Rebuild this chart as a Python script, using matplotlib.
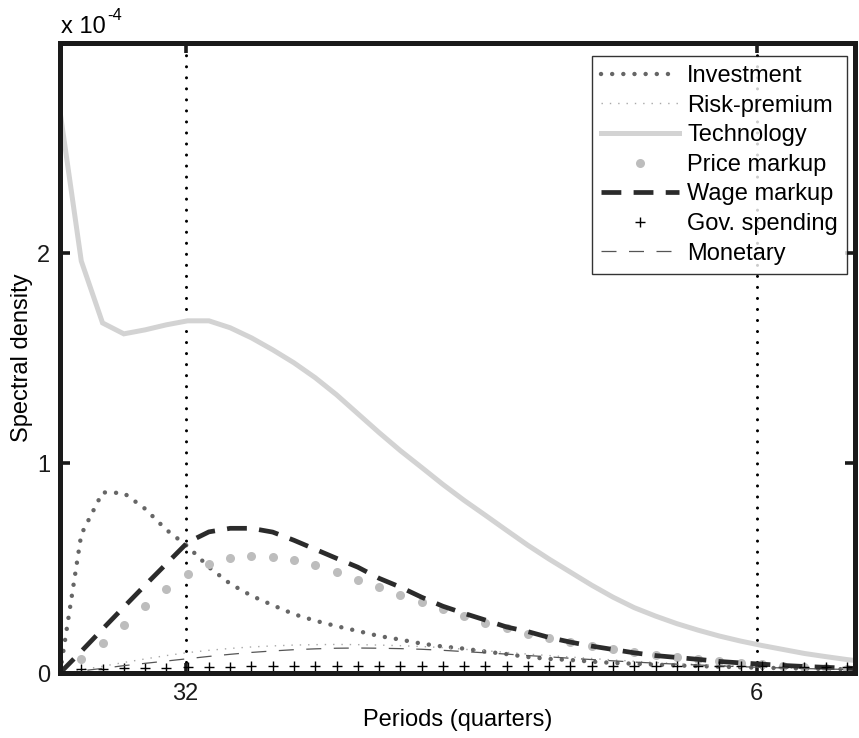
import numpy as np
import matplotlib
matplotlib.use('Agg')
import matplotlib.pyplot as plt

plt.rcParams['font.family'] = ['Liberation Sans', 'DejaVu Sans']

# frequency grid (radians per quarter)
w_start = 0.00909
w_step = 0.0317
n_points = 39
freq = w_start + w_step * np.arange(n_points)

x_limits = (0.00909, 1.1939)
y_limits = (0.0, 3.0)          # in units of 1e-4
SCALE = 1e-4

periods = [32, 6]
y_ticks = [0, 1, 2]

investment = [0, 0.66, 0.86, 0.857, 0.782, 0.682, 0.603, 0.504, 0.425, 0.368,
              0.323, 0.280, 0.249, 0.223, 0.200, 0.176, 0.159, 0.140, 0.126, 0.116,
              0.102, 0.090, 0.076, 0.067, 0.062, 0.054, 0.048, 0.044, 0.040, 0.036,
              0.033, 0.030, 0.027, 0.025, 0.023, 0.021, 0.019, 0.018, 0.017]
risk_premium = [0, 0.015, 0.032, 0.050, 0.067, 0.083, 0.097, 0.108, 0.117, 0.124,
                0.129, 0.133, 0.135, 0.136, 0.135, 0.133, 0.130, 0.126, 0.121, 0.113,
                0.106, 0.098, 0.090, 0.083, 0.076, 0.069, 0.062, 0.056, 0.050, 0.045,
                0.040, 0.036, 0.032, 0.028, 0.025, 0.022, 0.020, 0.018, 0.016]
technology = [2.675, 1.962, 1.667, 1.615, 1.634, 1.658, 1.677, 1.677, 1.644, 1.596,
              1.539, 1.477, 1.406, 1.325, 1.235, 1.145, 1.059, 0.979, 0.898, 0.822,
              0.751, 0.679, 0.608, 0.542, 0.480, 0.418, 0.361, 0.311, 0.271, 0.235,
              0.204, 0.176, 0.152, 0.131, 0.112, 0.093, 0.078, 0.064, 0.052]
price_markup = [0, 0.067, 0.143, 0.227, 0.318, 0.402, 0.470, 0.519, 0.548, 0.558,
                0.552, 0.537, 0.512, 0.480, 0.445, 0.409, 0.372, 0.336, 0.303, 0.271,
                0.238, 0.212, 0.185, 0.165, 0.149, 0.128, 0.113, 0.100, 0.086, 0.076,
                0.065, 0.057, 0.049, 0.041, 0.035, 0.030, 0.025, 0.020, 0.018]
wage_markup = [0, 0.103, 0.209, 0.314, 0.418, 0.520, 0.622, 0.672, 0.689, 0.689,
               0.671, 0.632, 0.589, 0.546, 0.504, 0.451, 0.409, 0.361, 0.318, 0.284,
               0.252, 0.219, 0.197, 0.169, 0.147, 0.128, 0.112, 0.096, 0.083, 0.074,
               0.065, 0.055, 0.048, 0.042, 0.036, 0.031, 0.027, 0.023, 0.020]
gov_spending = [0, 0.018, 0.020, 0.022, 0.024, 0.025, 0.027, 0.029, 0.030, 0.031,
                0.032, 0.032, 0.033, 0.033, 0.033, 0.033, 0.033, 0.033, 0.033, 0.033,
                0.033, 0.033, 0.033, 0.033, 0.033, 0.033, 0.033, 0.032, 0.032, 0.032,
                0.032, 0.031, 0.031, 0.031, 0.030, 0.030, 0.030, 0.029, 0.029]
monetary = [0, 0.010, 0.022, 0.035, 0.046, 0.057, 0.068, 0.079, 0.089, 0.098,
            0.105, 0.111, 0.115, 0.118, 0.119, 0.118, 0.116, 0.113, 0.108, 0.102,
            0.096, 0.090, 0.083, 0.077, 0.070, 0.064, 0.058, 0.052, 0.047, 0.042,
            0.038, 0.034, 0.030, 0.027, 0.024, 0.021, 0.019, 0.017, 0.015]

FS = 17

fig = plt.figure(figsize=(8.59, 7.38), dpi=100)
ax = fig.add_axes([60 / 859, 65 / 738, 795 / 859, 630 / 738])

def s(v):
    return np.asarray(v) * SCALE

ax.plot(freq, s(investment), color='#666666', lw=3.2, ls=(0, (0.01, 2.5)),
        dash_capstyle='round', label='Investment')
ax.plot(freq, s(risk_premium), color='#a8a8a8', lw=1.0, ls=(0, (1, 5)),
        label='Risk-premium')
ax.plot(freq, s(technology), color='#d3d3d3', lw=3.6, solid_joinstyle='miter',
        label='Technology')
ax.plot(freq, s(price_markup), ls='none', marker='o', ms=6.5, color='#bdbdbd',
        mec='none', label='Price markup')
ax.plot(freq, s(wage_markup), color='#2b2b2b', lw=3.4, ls=(0, (4.2, 2.6)),
        label='Wage markup')
ax.plot(freq, s(gov_spending), ls='none', marker='+', ms=7, mew=1.0,
        color='black', label='Gov. spending')
ax.plot(freq, s(monetary), color='#555555', lw=0.9, ls=(0, (12, 10)),
        label='Monetary')

for p in periods:
    ax.axvline(2 * np.pi / p, color='black', lw=2.2, ls=(0, (0.01, 3.6)),
               dash_capstyle='round', zorder=1)

ax.set_xlim(*x_limits)
ax.set_ylim(y_limits[0] * SCALE, y_limits[1] * SCALE)
ax.set_xticks(2 * np.pi / np.array(periods))
ax.set_xticklabels([str(p) for p in periods])
ax.set_yticks(np.array(y_ticks) * SCALE)
ax.set_yticklabels([str(t) for t in y_ticks])

for sp in ax.spines.values():
    sp.set_linewidth(3.6)
    sp.set_color('#1a1a1a')
ax.tick_params(direction='in', length=7, width=2.6, top=True, right=True,
               labelsize=FS, pad=7, colors='#1a1a1a', labelcolor='#1a1a1a')

ax.set_xlabel('Periods (quarters)', fontsize=FS, labelpad=3)
ax.set_ylabel('Spectral density', fontsize=FS, labelpad=3)

ax.text(0.001, 1.016, 'x 10', transform=ax.transAxes, fontsize=FS,
        ha='left', va='baseline')
ax.text(0.059, 1.037, '-4', transform=ax.transAxes, fontsize=12,
        ha='left', va='baseline')

leg = ax.legend(loc='upper right', bbox_to_anchor=(0.99, 0.979), fontsize=FS,
                frameon=True, fancybox=False, numpoints=1, handlelength=3.3,
                handletextpad=0.35, labelspacing=0.32, borderpad=0.38,
                borderaxespad=0.0)
leg.get_frame().set_edgecolor('black')
leg.get_frame().set_linewidth(1.0)

fig.savefig('out.png', dpi=100)
